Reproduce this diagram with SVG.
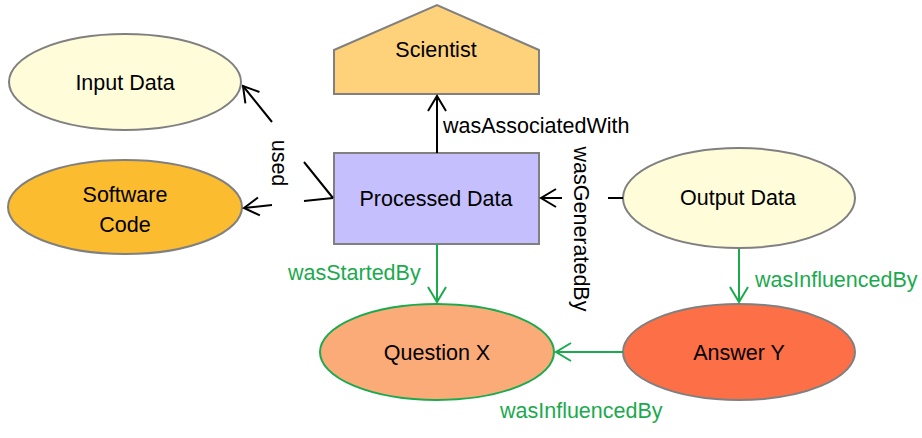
<svg xmlns="http://www.w3.org/2000/svg" width="922" height="438" viewBox="0 0 922 438">
<style>
  .node { stroke: #808080; stroke-width: 2; }
  .t { font-family: "Liberation Sans", Arial, sans-serif; font-size: 21.5px; fill: #000; text-anchor: middle; }
  .lbl { font-family: "Liberation Sans", Arial, sans-serif; font-size: 21.5px; fill: #000; }
  .glbl { font-family: "Liberation Sans", Arial, sans-serif; font-size: 21.5px; fill: #1BAA4E; }
  .blk { fill: none; stroke: #000; stroke-width: 2; }
  .grn { fill: none; stroke: #1BAA4E; stroke-width: 2; }
</style>
<defs>
  <marker id="ab" viewBox="-17 -11 19 22" markerWidth="19" markerHeight="22" refX="0" refY="0" markerUnits="userSpaceOnUse" orient="auto">
    <path d="M-15,-9 L0,0 L-15,9" fill="none" stroke="#000" stroke-width="2"/>
  </marker>
  <marker id="ag" viewBox="-17 -11 19 22" markerWidth="19" markerHeight="22" refX="0" refY="0" markerUnits="userSpaceOnUse" orient="auto">
    <path d="M-15,-9 L0,0 L-15,9" fill="none" stroke="#1BAA4E" stroke-width="2"/>
  </marker>
</defs>
<rect width="922" height="438" fill="#fff"/>

<g id="input-data">
  <ellipse class="node" cx="125" cy="82" rx="116" ry="48" fill="#FFFCDA"/>
  <text class="t" x="125" y="90">Input Data</text>
</g>
<g id="software-code">
  <ellipse class="node" cx="125" cy="207" rx="117" ry="47" fill="#FBBC2F"/>
  <text class="t" x="125" y="202">Software</text>
  <text class="t" x="125" y="232">Code</text>
</g>
<g id="scientist">
  <polygon class="node" points="334,50 437,5 539,50 539,94 334,94" fill="#FDD27B"/>
  <text class="t" x="436" y="57">Scientist</text>
</g>
<g id="processed-data">
  <rect class="node" x="334" y="153" width="205" height="91" fill="#C5C0FD"/>
  <text class="t" x="436" y="206">Processed Data</text>
</g>
<g id="output-data">
  <ellipse class="node" cx="739" cy="198" rx="116" ry="50" fill="#FFFCDA"/>
  <text class="t" x="738" y="205">Output Data</text>
</g>
<g id="question-x">
  <ellipse cx="437" cy="352" rx="117" ry="48" fill="#FBAB78" stroke="#1BAA4E" stroke-width="2"/>
  <text class="t" x="437" y="360">Question X</text>
</g>
<g id="answer-y">
  <ellipse class="node" cx="739" cy="352" rx="116" ry="48" fill="#FD6F46"/>
  <text class="t" x="739" y="360">Answer Y</text>
</g>

<g id="connectors">
  <path class="blk" d="M437,153 L437,96" marker-end="url(#ab)"/>
  <text class="lbl" x="443" y="133">wasAssociatedWith</text>

  <path class="blk" d="M333,198 L304,162 M272,122 L243,86" marker-end="url(#ab)"/>
  <path class="blk" d="M333,198 L304,201 M272,205 L244,208" marker-end="url(#ab)"/>
  <text class="lbl" transform="translate(272,163) rotate(90)" text-anchor="middle">used</text>

  <path class="blk" d="M623,198 L608,198 M562,198 L541,198" marker-end="url(#ab)"/>
  <text class="lbl" transform="translate(574,229) rotate(90)" text-anchor="middle">wasGeneratedBy</text>

  <path class="grn" d="M437,244 L437,302" marker-end="url(#ag)"/>
  <text class="glbl" x="288" y="280">wasStartedBy</text>

  <path class="grn" d="M739,249 L739,302" marker-end="url(#ag)"/>
  <text class="glbl" x="755" y="287">wasInfluencedBy</text>

  <path class="grn" d="M623,352 L556,352" marker-end="url(#ag)"/>
  <text class="glbl" x="500" y="418">wasInfluencedBy</text>
</g>
</svg>
